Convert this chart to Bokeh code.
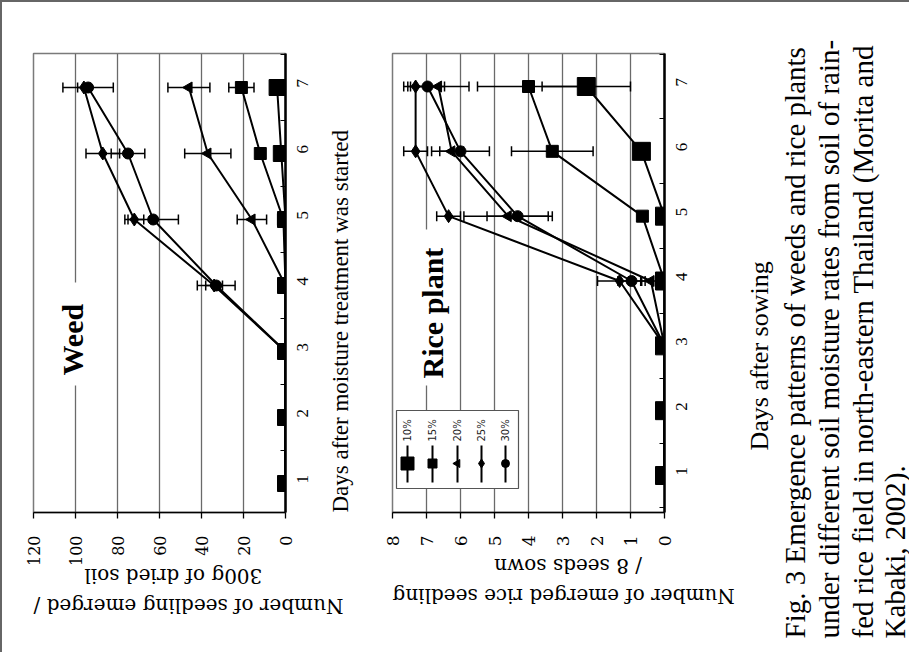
import math
from bokeh.plotting import figure
from bokeh.models import FixedTicker, Label, Whisker, ColumnDataSource, TeeHead, Range1d, Title
from bokeh.layouts import row
from bokeh.embed import file_html
from bokeh.resources import INLINE

# ---------------- data ----------------
days = [1, 2, 3, 4, 5, 6, 7]
series_names = ["10%", "15%", "20%", "25%", "30%"]

weed_10 = [0, 0, 0, 0, 0, 2, 4]
weed_15 = [0, 0, 0, 0, 1, 12, 21]
weed_20 = [0, 0, 0, 0, 16, 37, 46]
weed_25 = [0, 0, 0, 34, 72, 87, 96]
weed_30 = [0, 0, 0, 33, 63, 75, 94]
weed_err_10 = [0, 0, 0, 0, 0, 0, 0]
weed_err_15 = [0, 0, 0, 0, 0, 0, 6]
weed_err_20 = [0, 0, 0, 0, 7, 11, 10]
weed_err_25 = [0, 0, 0, 4, 4.5, 8, 3]
weed_err_30 = [0, 0, 0, 9, 12, 8, 12]

rice_10 = [0, 0, 0, 0, 0, 0.68, 2.3]
rice_15 = [0, 0, 0, 0, 0.65, 3.3, 4.0]
rice_20 = [0, 0, 0, 0.4, 4.6, 6.26, 6.65]
rice_25 = [0, 0, 0, 1.32, 6.35, 7.32, 7.32]
rice_30 = [0, 0, 0, 0.97, 4.32, 6.0, 6.97]
rice_err_10 = [0, 0, 0, 0, 0, 0, 1.3]
rice_err_15 = [0, 0, 0, 0, 0, 1.2, 1.5]
rice_err_20 = [0, 0, 0, 0.3, 1.3, 0.35, 0.9]
rice_err_25 = [0, 0, 0, 0.65, 0.35, 0.35, 0.35]
rice_err_30 = [0, 0, 0, 0.4, 0.9, 0.85, 0.5]

weed_ticks = [0, 20, 40, 60, 80, 100, 120]
rice_ticks = [0, 1, 2, 3, 4, 5, 6, 7, 8]

NBSP = "\u00a0"
weed_value_title = ["Number of seedling emerged /", "300g of dried soil"]
weed_day_title = "Days after moisture treatment was started"
rice_value_title = ["Number of emerged rice seedling", "/ 8 seeds sown"]
rice_day_title = "Days after sowing"
caption_lines = [
    "Fig. 3  Emergence  patterns of weeds and rice plants",
    "under different soil moisture rates from soil of rain-",
    "fed rice field in north-eastern Thailand  (Morita and",
    "Kabaki, 2002).",
]

# marker styles per series (10%,15%,20%,25%,30%)
markers = ["square", "square", "triangle", "diamond", "circle"]
weed_sizes = [16, 12, 11, 13, 11]
rice_sizes = [18, 12, 11, 13, 11]
legend_sizes = [13, 9, 8, 9, 8]

SERIF = "Liberation Serif"
WIDE_SERIF = "DejaVu Serif"
VERT = math.pi / 2

# ---------------- layout (page pixels; content starts at x=2, y=2) ----------------
H = 650
FRAME_TOP, FRAME_BOTTOM = 53, 512
TOP_B = FRAME_TOP - 2
FRAME_H = FRAME_BOTTOM - FRAME_TOP
BOT_B = H - TOP_B - FRAME_H

# weed frame: x 33..285 ; day 1 at y=483, day 7 at y=87
W_L, W_R = 33, 285
W_D1, W_D7 = 483, 87
w_step = (W_D1 - W_D7) / 6
WY0 = 1 - (FRAME_BOTTOM - W_D1) / w_step
WY1 = 7 + (W_D7 - FRAME_TOP) / w_step
# rice frame: x 392..664 ; day 1 at y=475, day 7 at y=86
R_L, R_R = 392, 664
R_D1, R_D7 = 475, 86
r_step = (R_D1 - R_D7) / 6
RY0 = 1 - (FRAME_BOTTOM - R_D1) / r_step
RY1 = 7 + (R_D7 - FRAME_TOP) / r_step

WEED_X0, RICE_X0, CAP_X0 = 2, 378, 740
WEED_W = RICE_X0 - WEED_X0
RICE_W = CAP_X0 - RICE_X0
CAP_W = 909 - 2 - WEED_W - RICE_W


def wx(px):
    return 120 * (W_R - px) / (W_R - W_L)


def wy(py):
    return WY0 + (WY1 - WY0) * (FRAME_BOTTOM - py) / FRAME_H


def rx(px):
    return 8 * (R_R - px) / (R_R - R_L)


def ry(py):
    return RY0 + (RY1 - RY0) * (FRAME_BOTTOM - py) / FRAME_H


def safe_set(obj, name, val):
    try:
        setattr(obj, name, val)
    except Exception:
        pass


def make_fig(width, fleft, fw, vmax, y0, y1, ticks, tick_font_size, day_title, value_title,
             value_standoff, pad2):
    p = figure(width=width, height=H, x_range=Range1d(vmax, 0), y_range=Range1d(y0, y1),
               y_axis_location="right", toolbar_location=None, output_backend="svg",
               title=None,
               min_border_left=fleft, min_border_top=TOP_B,
               min_border_right=width - fleft - fw, min_border_bottom=BOT_B)
    p.background_fill_color = "white"
    p.border_fill_color = "white"
    p.outline_line_color = "#7a7a7a"
    p.outline_line_width = 1.5
    p.xgrid.grid_line_color = "#6a6a6a"
    p.xgrid.grid_line_width = 1.3
    p.ygrid.grid_line_color = None

    xa = p.xaxis[0]
    xa.ticker = FixedTicker(ticks=ticks)
    xa.major_label_orientation = VERT
    xa.major_label_text_font = WIDE_SERIF
    xa.major_label_text_font_size = tick_font_size
    xa.major_label_text_color = "black"
    xa.major_tick_in = 0
    xa.major_tick_out = 6
    xa.major_tick_line_width = 1.3
    xa.minor_tick_line_color = None
    xa.axis_line_width = 1.6
    xa.axis_line_color = "black"
    xa.major_label_standoff = 17
    # two-line title, read upside down; second line padded so it sits centred
    xa.axis_label = value_title[0] + "\n" + value_title[1] + NBSP * pad2
    xa.axis_label_text_font = WIDE_SERIF
    xa.axis_label_text_font_size = "20px"
    xa.axis_label_text_font_style = "normal"
    xa.axis_label_text_color = "black"
    xa.axis_label_text_line_height = 1.25
    xa.axis_label_standoff = value_standoff
    safe_set(xa, "axis_label_orientation", math.pi)
    # the value range is reversed, so "end" is the left edge of the frame
    safe_set(xa, "axis_label_align", "end")

    ya = p.yaxis[0]
    ya.ticker = FixedTicker(ticks=days, minor_ticks=[d - 0.5 for d in days] + [7.5])
    ya.major_tick_line_color = None
    ya.major_tick_in = 0
    ya.major_tick_out = 0
    ya.minor_tick_in = 5
    ya.minor_tick_out = 0
    ya.minor_tick_line_color = "black"
    ya.minor_tick_line_width = 1.2
    ya.axis_line_width = 2.5
    ya.axis_line_color = "black"
    ya.major_label_orientation = VERT
    ya.major_label_text_font = SERIF
    ya.major_label_text_font_size = "17px"
    ya.major_label_text_color = "black"
    ya.major_label_standoff = 17
    if day_title:
        ya.axis_label = day_title
        ya.axis_label_text_font = SERIF
        ya.axis_label_text_font_size = "23px"
        ya.axis_label_text_font_style = "normal"
        ya.axis_label_text_color = "black"
        ya.axis_label_standoff = 24
        safe_set(ya, "axis_label_orientation", VERT)
        safe_set(ya, "axis_label_align", "start")
    return p


def draw_series(p, all_vals, all_errs, sizes):
    for vals, errs in zip(all_vals, all_errs):
        p.line(vals, days, line_color="black", line_width=2)
        b = [d for d, e in zip(days, errs) if e > 0]
        lo = [v - e for v, e in zip(vals, errs) if e > 0]
        hi = [v + e for v, e in zip(vals, errs) if e > 0]
        if b:
            src = ColumnDataSource(dict(b=b, lo=lo, hi=hi))
            w = Whisker(source=src, base="b", lower="lo", upper="hi", dimension="width",
                        line_color="black", line_width=1.5, level="glyph",
                        upper_head=TeeHead(size=10, line_width=1.5, line_color="black"),
                        lower_head=TeeHead(size=10, line_width=1.5, line_color="black"))
            p.add_layout(w)
    for vals, mk, sz in zip(all_vals, markers, sizes):
        ang = VERT if mk == "triangle" else 0
        p.scatter(vals, days, marker=mk, size=sz, fill_color="black", line_color="black", angle=ang)


# ---------------- weed plot ----------------
pw = make_fig(WEED_W, W_L - WEED_X0, W_R - W_L, 120, WY0, WY1, weed_ticks, "16px",
              weed_day_title, weed_value_title, 22, 8)
pw.quad(left=[wx(36)], right=[wx(100)], bottom=[wy(385)], top=[wy(282)],
        fill_color="white", line_color=None)
draw_series(pw, [weed_10, weed_15, weed_20, weed_25, weed_30],
            [weed_err_10, weed_err_15, weed_err_20, weed_err_25, weed_err_30], weed_sizes)
pw.add_layout(Label(x=wx(72), y=wy(375), text="Weed", angle=VERT, text_font=SERIF,
                    text_font_size="30px", text_font_style="bold", text_align="left",
                    text_baseline="alphabetic", text_color="black"))

# ---------------- rice plot ----------------
pr = make_fig(RICE_W, R_L - RICE_X0, R_R - R_L, 8, RY0, RY1, rice_ticks, "17px",
              None, rice_value_title, 32, 16)
pr.quad(left=[rx(398)], right=[rx(450)], bottom=[ry(385)], top=[ry(229)],
        fill_color="white", line_color=None)
draw_series(pr, [rice_10, rice_15, rice_20, rice_25, rice_30],
            [rice_err_10, rice_err_15, rice_err_20, rice_err_25, rice_err_30], rice_sizes)
pr.add_layout(Label(x=rx(432), y=ry(378), text="Rice plant", angle=VERT, text_font=SERIF,
                    text_font_size="30px", text_font_style="bold", text_align="left",
                    text_baseline="alphabetic", text_color="black"))

# legend (drawn by hand, rotated like the rest of the figure)
pr.quad(left=[rx(396)], right=[rx(518)], bottom=[ry(488)], top=[ry(410)],
        fill_color="white", line_color="#555555", line_width=1.2)
leg_px = [407, 432, 457, 481, 505]
leg_x = [rx(v) for v in leg_px]
pr.segment(x0=leg_x, y0=[ry(445)] * 5, x1=leg_x, y1=[ry(482)] * 5,
           line_color="black", line_width=2)
for lx, mk, sz, name in zip(leg_x, markers, legend_sizes, series_names):
    ang = VERT if mk == "triangle" else 0
    pr.scatter([lx], [ry(463)], marker=mk, size=sz, fill_color="black",
               line_color="black", angle=ang)
    pr.add_layout(Label(x=lx, y=ry(441), text=name, angle=VERT, text_font="DejaVu Sans",
                        text_font_size="10px", text_align="left", text_baseline="middle",
                        text_color="#222222"))

# ---------------- rice day title + caption (side titles, read bottom-to-top) ----------------
pc = figure(width=CAP_W, height=H, x_range=Range1d(0, 1), y_range=Range1d(0, 1),
            toolbar_location=None, output_backend="svg", title=None,
            x_axis_location=None, y_axis_location=None,
            min_border_left=CAP_W - 1, min_border_right=0,
            min_border_top=TOP_B, min_border_bottom=BOT_B)
pc.grid.visible = False
pc.outline_line_color = None
pc.background_fill_color = "white"
pc.border_fill_color = "white"
cap_standoffs = [0, 0, 0, -4]
for line, so in zip(reversed(caption_lines), reversed(cap_standoffs)):
    pc.add_layout(Title(text=line, align="left", offset=-(638 - FRAME_BOTTOM), standoff=so,
                        text_font=SERIF, text_font_size="29px", text_font_style="normal",
                        text_color="black"), "left")
pc.add_layout(Title(text=rice_day_title, align="left", offset=-(450 - FRAME_BOTTOM), standoff=5,
                    text_font=SERIF, text_font_size="26px", text_font_style="normal",
                    text_color="black"), "left")

layout = row(pw, pr, pc, styles={"border-left": "2px solid #666666",
                                 "border-top": "2px solid #666666"})

open("out.html", "w").write(file_html(layout, INLINE))
